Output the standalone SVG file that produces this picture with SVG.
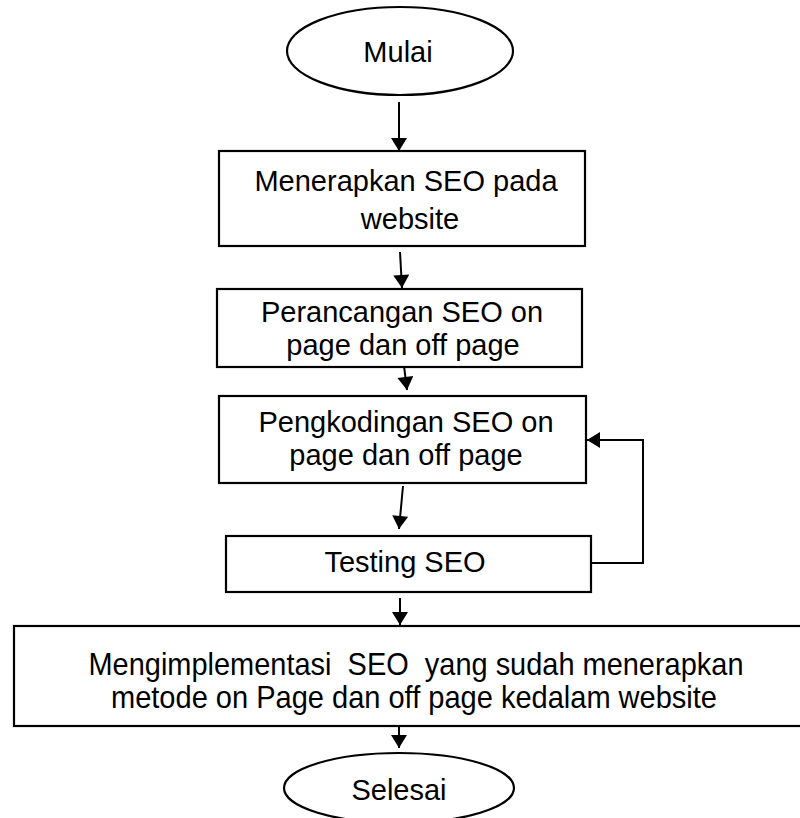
<svg xmlns="http://www.w3.org/2000/svg" width="800" height="818" viewBox="0 0 800 818">
<style>
.shape{fill:#fff;stroke:#000;stroke-width:2.2}
.t{font-family:"Liberation Sans",Arial,sans-serif;font-size:29px;fill:#000;text-anchor:middle}
.n{font-size:32px}
.c{fill:none;stroke:#000;stroke-width:2}
</style>
<defs>
<marker id="ah" markerUnits="userSpaceOnUse" markerWidth="16" markerHeight="16" viewBox="0 0 13 16" refX="13" refY="8" orient="auto">
<path d="M0,0 L13,8 L0,16 z" fill="#000"/>
</marker>
</defs>
<rect width="800" height="818" fill="#fff"/>
<g id="connectors">
<line class="c" x1="399" y1="102" x2="399" y2="151" marker-end="url(#ah)"/>
<line class="c" x1="400" y1="252" x2="402" y2="288" marker-end="url(#ah)"/>
<line class="c" x1="403" y1="358" x2="407" y2="390" marker-end="url(#ah)"/>
<line class="c" x1="403" y1="486" x2="399" y2="529" marker-end="url(#ah)"/>
<polyline class="c" points="591,563 643,563 643,440 587,440" marker-end="url(#ah)"/>
<line class="c" x1="400" y1="598" x2="400" y2="625" marker-end="url(#ah)"/>
<line class="c" x1="399" y1="727" x2="399" y2="748" marker-end="url(#ah)"/>
</g>
<g id="start">
<ellipse class="shape" cx="400" cy="51" rx="113" ry="44"/>
<text class="t" x="398" y="62">Mulai</text>
</g>
<g id="step1">
<rect class="shape" x="219" y="151" width="366" height="95"/>
<text class="t" x="406" y="191">Menerapkan SEO pada</text>
<text class="t" x="410" y="229">website</text>
</g>
<g id="step2">
<rect class="shape" x="217" y="289" width="365" height="78"/>
<text class="t" x="402" y="322">Perancangan SEO on</text>
<text class="t" x="403" y="355">page dan off page</text>
</g>
<g id="step3">
<rect class="shape" x="219" y="396" width="367" height="87"/>
<text class="t" x="406" y="432">Pengkodingan SEO on</text>
<text class="t" x="406" y="465">page dan off page</text>
</g>
<g id="step4">
<rect class="shape" x="226" y="536" width="365" height="56"/>
<text class="t" x="405" y="572">Testing SEO</text>
</g>
<g id="step5">
<rect class="shape" x="14" y="626" width="806" height="100"/>
<text class="t n" x="416" y="675" xml:space="preserve" textLength="655" lengthAdjust="spacingAndGlyphs">Mengimplementasi  SEO  yang sudah menerapkan</text>
<text class="t n" x="414" y="708" textLength="606" lengthAdjust="spacingAndGlyphs">metode on Page dan off page kedalam website</text>
</g>
<g id="end">
<ellipse class="shape" cx="399" cy="788" rx="115" ry="35"/>
<text class="t" x="399" y="800">Selesai</text>
</g>
</svg>
